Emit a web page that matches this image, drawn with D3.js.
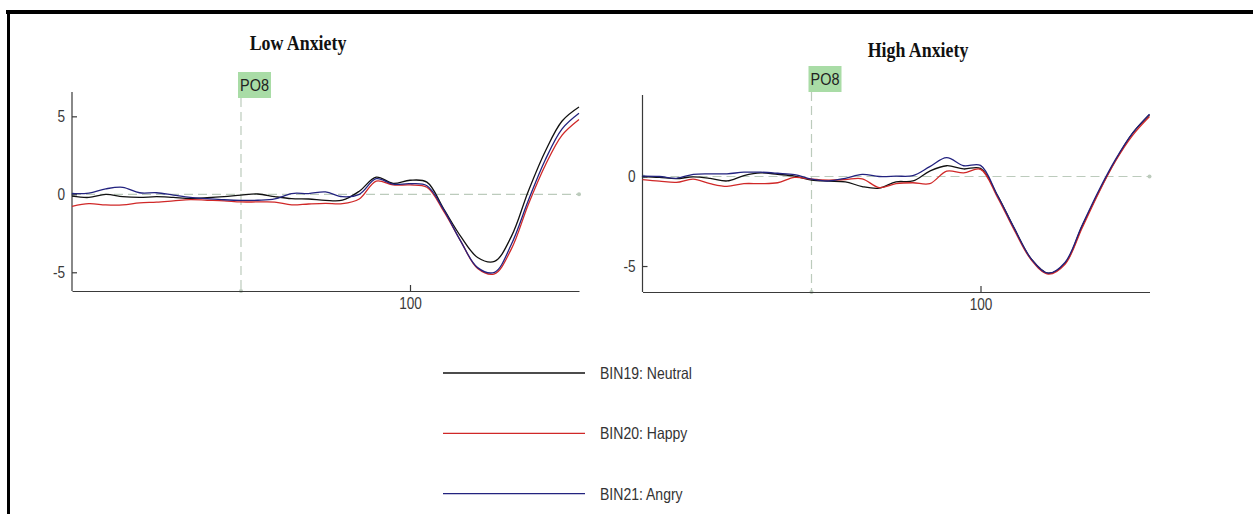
<!DOCTYPE html>
<html>
<head>
<meta charset="utf-8">
<script src="https://cdn.jsdelivr.net/npm/d3@7"></script>
<style>
  html, body { margin: 0; padding: 0; background: #fff; }
  svg { display: block; }
</style>
</head>
<body>
<svg id="chart" width="1253" height="514"></svg>
<script>
// sample times (ms) shared by every waveform
const times = [-100, -90, -80, -70, -60, -50, -40, -30, -20, -10, 0, 10, 20, 30, 40, 50,
               60, 70, 80, 90, 100, 110, 120, 130, 140, 150, 160, 170, 180, 190, 200];

// Low anxiety group (uV)
const lowNeutral = [-0.12, -0.2, 0.0, -0.15, -0.2, -0.15, -0.2, -0.26, -0.22, -0.15, -0.05, 0.02, -0.15, -0.28, -0.3, -0.39,
                    -0.38, 0.2, 1.1, 0.7, 0.9, 0.78, -0.95, -2.7, -4.05, -4.3, -2.7, 0.2, 2.75, 4.7, 5.6];
const lowHappy   = [-0.77, -0.6, -0.68, -0.68, -0.55, -0.5, -0.42, -0.34, -0.38, -0.42, -0.49, -0.49, -0.5, -0.68, -0.62, -0.58,
                    -0.6, -0.3, 0.85, 0.6, 0.6, 0.45, -1.1, -3.0, -4.75, -5.1, -3.5, -0.65, 1.85, 3.8, 4.8];
const lowAngry   = [0.05, 0.08, 0.35, 0.45, 0.1, 0.1, -0.05, -0.2, -0.28, -0.35, -0.39, -0.38, -0.3, 0.05, 0.05, 0.15,
                    -0.15, 0.0, 1.0, 0.65, 0.68, 0.55, -1.0, -3.0, -4.7, -5.0, -3.2, -0.4, 2.2, 4.2, 5.2];

// High anxiety group (uV)
const highNeutral = [0.0, -0.05, -0.12, -0.02, -0.1, -0.25, 0.05, 0.2, 0.12, 0.02, -0.2, -0.26, -0.3, -0.56, -0.65, -0.3,
                     -0.25, 0.3, 0.6, 0.42, 0.45, -1.05, -2.9, -4.6, -5.4, -4.85, -2.8, -0.85, 0.92, 2.42, 3.45];
const highHappy   = [-0.17, -0.26, -0.33, -0.15, -0.4, -0.55, -0.4, -0.4, -0.35, -0.05, -0.15, -0.2, -0.17, -0.13, -0.62, -0.4,
                     -0.35, -0.4, 0.3, 0.2, 0.4, -1.15, -3.0, -4.65, -5.45, -4.9, -2.9, -0.9, 0.88, 2.3, 3.35];
const highAngry   = [0.02, 0.0, -0.1, 0.12, 0.15, 0.15, 0.24, 0.24, 0.18, 0.1, -0.15, -0.25, -0.1, 0.12, 0.0, 0.02,
                     0.05, 0.55, 1.05, 0.6, 0.62, -1.05, -2.9, -4.6, -5.4, -4.8, -2.75, -0.78, 0.97, 2.42, 3.48];

const binNames = ["BIN19: Neutral", "BIN20: Happy", "BIN21: Angry"];
const binColors = ["#111111", "#d02828", "#23237f"];
const channel = "PO8";
const xTicks = [100];

const svg = d3.select("#chart");

// frame: only top and left edges are visible in the original
svg.append("line").attr("x1", 6).attr("x2", 1253).attr("y1", 12).attr("y2", 12)
    .attr("stroke", "#000").attr("stroke-width", 4);
svg.append("line").attr("x1", 8.5).attr("x2", 8.5).attr("y1", 10).attr("y2", 514)
    .attr("stroke", "#000").attr("stroke-width", 3);

// the source image is squeezed horizontally, so text is squeezed too
function squeeze(sel, k) {
    sel.each(function () {
        const w = this.getComputedTextLength();
        d3.select(this).attr("textLength", w * k).attr("lengthAdjust", "spacingAndGlyphs");
    });
}

function drawPanel(opts) {
    const x = d3.scaleLinear().domain([-100, 200]).range([opts.left, opts.right]);
    const y = d3.scaleLinear().domain(opts.yDomain).range([opts.bottom, opts.top]);
    const g = svg.append("g");

    // title
    const title = g.append("text")
        .attr("x", opts.titleX).attr("y", opts.titleY)
        .attr("text-anchor", "middle")
        .attr("font-family", "'Liberation Serif', 'Times New Roman', serif")
        .attr("font-weight", "bold").attr("font-size", 21)
        .attr("fill", "#111")
        .text(opts.title);
    squeeze(title, 0.85);

    // zero line + stimulus onset line
    const guide = "#bccbbc";
    g.append("line")
        .attr("x1", x(-100)).attr("x2", x(200)).attr("y1", y(0)).attr("y2", y(0))
        .attr("stroke", guide).attr("stroke-width", 1.2).attr("stroke-dasharray", "9,5");
    g.append("circle").attr("cx", x(200)).attr("cy", y(0)).attr("r", 2).attr("fill", guide);
    g.append("circle").attr("cx", x(-100) + 1).attr("cy", y(0)).attr("r", 2).attr("fill", "#b8d0dc");
    g.append("line")
        .attr("x1", x(0)).attr("x2", x(0)).attr("y1", opts.labelBottom).attr("y2", opts.bottom)
        .attr("stroke", guide).attr("stroke-width", 1.2).attr("stroke-dasharray", "9,5");
    g.append("circle").attr("cx", x(0)).attr("cy", opts.bottom).attr("r", 2).attr("fill", guide);

    // channel label
    g.append("rect")
        .attr("x", x(0) - 3).attr("y", opts.labelBottom - 26)
        .attr("width", 33).attr("height", 26)
        .attr("fill", "#a9dca6");
    const lab = g.append("text")
        .attr("x", x(0) - 1).attr("y", opts.labelBottom - 7)
        .attr("font-family", "'Liberation Sans', Arial, sans-serif")
        .attr("font-size", 17).attr("fill", "#222")
        .text(channel);
    squeeze(lab, 0.85);

    // axes (plain hyphen for negatives, as in the original)
    const yAxis = g.append("g")
        .attr("transform", `translate(${opts.left},0)`)
        .call(d3.axisLeft(y).tickValues(opts.yTicks).tickFormat(d => String(d))
            .tickSizeInner(-5).tickSizeOuter(0).tickPadding(7));
    const xAxis = g.append("g")
        .attr("transform", `translate(0,${opts.bottom})`)
        .call(d3.axisBottom(x).tickValues(xTicks).tickFormat(d => String(d))
            .tickSizeInner(-6).tickSizeOuter(0).tickPadding(7));
    [yAxis, xAxis].forEach(ax => {
        ax.attr("color", "#3a3a3a")
          .attr("font-family", "'Liberation Sans', Arial, sans-serif")
          .attr("font-size", 16);
        ax.selectAll("path, line").attr("stroke-width", 1.2);
        squeeze(ax.selectAll("text"), 0.85);
    });
    yAxis.select(".domain").attr("d", `M0,${opts.bottom}V${opts.top}`);

    // waveforms
    const line = d3.line()
        .x((d, i) => x(times[i]))
        .y(d => y(d))
        .curve(d3.curveCatmullRom);
    opts.series.forEach((s, i) => {
        g.append("path")
            .attr("d", line(s))
            .attr("fill", "none")
            .attr("stroke", binColors[i])
            .attr("stroke-width", 1.3);
    });
}

drawPanel({
    title: "Low Anxiety", titleX: 298, titleY: 50,
    left: 72, right: 579, top: 92, bottom: 291,
    yDomain: [-6.2, 6.56], yTicks: [-5, 0, 5],
    labelBottom: 98,
    series: [lowNeutral, lowHappy, lowAngry]
});

drawPanel({
    title: "High Anxiety", titleX: 918, titleY: 57,
    left: 642.5, right: 1149.5, top: 95, bottom: 292,
    yDomain: [-6.45, 4.55], yTicks: [-5, 0],
    labelBottom: 92,
    series: [highNeutral, highHappy, highAngry]
});

// legend
const legend = svg.append("g");
binNames.forEach((name, i) => {
    const ly = 373 + i * 60.3;
    legend.append("line")
        .attr("x1", 443).attr("x2", 585).attr("y1", ly).attr("y2", ly)
        .attr("stroke", binColors[i]).attr("stroke-width", 1.3);
    const t = legend.append("text")
        .attr("x", 600).attr("y", ly + 6)
        .attr("font-family", "'Liberation Sans', Arial, sans-serif")
        .attr("font-size", 16.5).attr("fill", "#333")
        .text(name);
    squeeze(t, 0.85);
});
</script>
</body>
</html>
